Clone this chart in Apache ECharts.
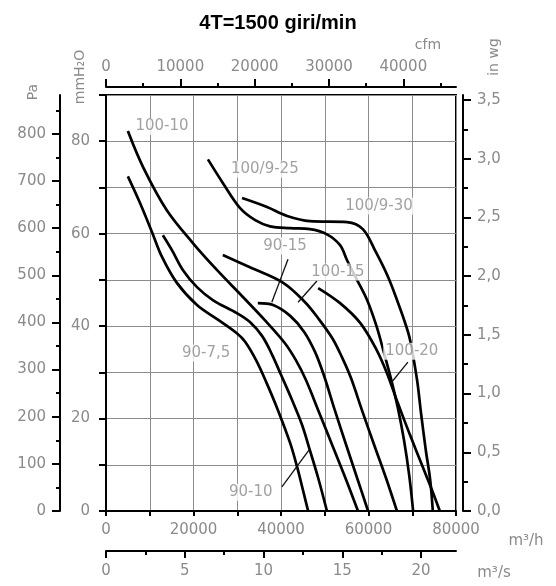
<!DOCTYPE html>
<html><head><meta charset="utf-8">
<script src="https://cdn.jsdelivr.net/npm/echarts@6/dist/echarts.min.js"></script>
<style>html,body{margin:0;padding:0;background:#fff}#c{width:556px;height:586px}</style>
</head><body><div id="c"></div>
<script>
// ---- data: [flow m3/h, static pressure Pa] ----
const curve_100_10 = [[5000,806],[8500,729],[13900,638],[19900,568],[25400,511],[31300,454],[36300,405],[40900,356],[43400,320],[45700,278],[48500,214],[51700,140],[54900,66],[57600,0]];
const curve_90_7_5 = [[5000,710],[7800,653],[10500,592],[12800,539],[16200,484],[20800,437],[25400,407],[29900,377],[31800,359],[34300,320],[36600,274],[39300,214],[42100,144],[43700,93],[45000,45],[46200,0]];
const curve_90_10 = [[13000,585],[15100,553],[17600,511],[20800,475],[24500,447],[29900,420],[32900,401],[35700,371],[37900,333],[40000,289],[42500,236],[44800,183],[46600,129],[48500,70],[50500,0]];
const curve_100_15 = [[26700,543],[32900,517],[40500,484],[45500,443],[48500,409],[51700,367],[53900,327],[56000,282],[58500,214],[61300,140],[64000,70],[66500,0]];
const curve_90_15 = [[34700,441],[38200,437],[42100,414],[45300,380],[47800,337],[49800,288],[52300,214],[54900,140],[57400,70],[59900,0]];
const curve_100_20 = [[48500,473],[53500,441],[58100,399],[61900,341],[64200,293],[66700,229],[69500,161],[72200,98],[74700,40],[76300,0]];
const curve_100_9_25 = [[23300,746],[26700,696],[30600,643],[34100,617],[37500,604],[42100,600],[46600,598],[50500,587],[53500,564],[55100,532],[57400,490],[59700,447],[61900,390],[63500,337],[65100,282],[66700,219],[68100,151],[69300,76],[70200,0]];
const curve_100_9_30 = [[31100,664],[36800,645],[41400,626],[46600,615],[55100,613],[58700,598],[61700,549],[64500,496],[66700,443],[68300,401],[69500,363],[71100,278],[72000,208],[73100,129],[74100,66],[74700,0]];

// curve labels
const labelTexts = ['100-10','100/9-25','100/9-30','90-15','100-15','90-7,5','100-20','90-10'];
const labelFlow  = [12800, 36300, 62400, 40900, 53000, 22900, 69900, 33100];
const labelPa    = [816, 725, 647, 562, 507, 335, 339, 40];

// leader lines
const leader_90_15  = [[41600,534],[37900,443]];
const leader_100_15 = [[48200,488],[43900,443]];
const leader_100_20 = [[69000,316],[65100,271]];
const leader_90_10  = [[40200,51],[46600,132]];

// axis ticks / labels
const m3hMax = 80000, mmMax = 90;
const paLabels = [0,100,200,300,400,500,600,700,800];
const paMinor = [50,150,250,350,450,550,650,750,850];
const inwgLabels = [0,0.5,1,1.5,2,2.5,3,3.5];
const inwgMinor = [0.25,0.75,1.25,1.75,2.25,2.75,3.25];
const cfmLabels = [0,10000,20000,30000,40000];
const cfmMinor = [5000,15000,25000,35000,45000];
const m3sLabels = [0,5,10,15,20];
const m3sMinor = [2.5,7.5,12.5,17.5];

const PA_PER_MM = 9.80665, MM_PER_INWG = 25.4, M3H_PER_CFM = 1.69901;
const FONT = 'DejaVu Sans';
const GRAY = '#8a8a8a';
const BLACK = '#000';

const chart = echarts.init(document.getElementById('c'));

function lbl(extra){return Object.assign({color:GRAY,fontFamily:FONT,fontSize:15},extra||{});}
function minorAxis(base){
  return Object.assign({type:'value', axisLine:{show:false, onZero:false}, axisLabel:{show:false}, splitLine:{show:false},
    axisTick:{show:true, lineStyle:{color:BLACK,width:2}}}, base);
}

const xAxes = [
  {type:'value', position:'bottom', min:0, max:m3hMax, interval:10000,
   axisLine:{show:true,onZero:false,lineStyle:{color:BLACK,width:2}},
   axisTick:{show:true,length:5,lineStyle:{color:BLACK,width:2}},
   axisLabel:lbl({margin:12, formatter:v=> v%20000===0 ? String(v) : ''}),
   splitLine:{show:true,lineStyle:{color:'#8c8c8c',width:1}}},
  {type:'value', position:'bottom', offset:40, min:0, max:m3hMax/3600, interval:5,
   axisLine:{show:true,onZero:false,lineStyle:{color:BLACK,width:2}},
   axisTick:{show:true,length:7,customValues:m3sLabels,lineStyle:{color:BLACK,width:2}},
   axisLabel:lbl({margin:13, customValues:m3sLabels, formatter:v=> v%5===0 ? String(v) : ''}),
   splitLine:{show:false}},
  minorAxis({position:'bottom', offset:40, min:0, max:m3hMax/3600, axisTick:{show:true,length:4,customValues:m3sMinor,lineStyle:{color:BLACK,width:2}}}),
  {type:'value', position:'top', offset:8, min:0, max:m3hMax/M3H_PER_CFM, interval:10000,
   axisLine:{show:true,onZero:false,lineStyle:{color:BLACK,width:2}},
   axisTick:{show:true,length:8,customValues:cfmLabels,lineStyle:{color:BLACK,width:2}},
   axisLabel:lbl({margin:12, customValues:cfmLabels, formatter:v=> v%10000===0 ? String(v) : ''}),
   splitLine:{show:false}},
  minorAxis({position:'top', offset:8, min:0, max:m3hMax/M3H_PER_CFM, axisTick:{show:true,length:4,customValues:cfmMinor,lineStyle:{color:BLACK,width:2}}})
];

const yAxes = [
  {type:'value', position:'left', min:0, max:mmMax, interval:10,
   axisLine:{show:true,onZero:false,lineStyle:{color:BLACK,width:2}},
   axisTick:{show:true,length:7,lineStyle:{color:BLACK,width:2}},
   axisLabel:lbl({margin:16, formatter:v=> v%20===0 ? String(v) : ''}),
   splitLine:{show:true,lineStyle:{color:'#8c8c8c',width:1}}},
  {type:'value', position:'left', offset:46, min:0, max:mmMax*PA_PER_MM, interval:100,
   axisLine:{show:true,onZero:false,lineStyle:{color:BLACK,width:2}},
   axisTick:{show:true,length:8,customValues:paLabels,lineStyle:{color:BLACK,width:2}},
   axisLabel:lbl({margin:14, customValues:paLabels, formatter:v=> v%100===0 ? String(v) : ''}),
   splitLine:{show:false}},
  minorAxis({position:'left', offset:46, min:0, max:mmMax*PA_PER_MM, axisTick:{show:true,length:4,customValues:paMinor,lineStyle:{color:BLACK,width:2}}}),
  {type:'value', position:'right', offset:7, min:0, max:mmMax/MM_PER_INWG, interval:0.5,
   axisLine:{show:true,onZero:false,lineStyle:{color:BLACK,width:2}},
   axisTick:{show:true,length:8,customValues:inwgLabels,lineStyle:{color:BLACK,width:2}},
   axisLabel:lbl({margin:14, customValues:inwgLabels, formatter:v=> (Math.abs(v*2-Math.round(v*2))<1e-6) ? v.toFixed(1).replace('.',',') : ''}),
   splitLine:{show:false}},
  minorAxis({position:'right', offset:7, min:0, max:mmMax/MM_PER_INWG, axisTick:{show:true,length:5,customValues:inwgMinor,lineStyle:{color:BLACK,width:2}}})
];

const curves = [curve_100_10, curve_90_7_5, curve_90_10, curve_100_15, curve_90_15, curve_100_20, curve_100_9_25, curve_100_9_30];
const curveNames = ['100-10','90-7,5','90-10','100-15','90-15','100-20','100/9-25','100/9-30'];
const series = curves.map((d,i)=>({
  name: curveNames[i], type:'line', xAxisIndex:0, yAxisIndex:1, data:d,
  showSymbol:false, smooth:0.35, silent:true, z:3,
  lineStyle:{color:BLACK,width:2.7}
}));
[leader_90_15, leader_100_15, leader_100_20, leader_90_10].forEach(d=>{
  series.push({type:'line', xAxisIndex:0, yAxisIndex:1, data:d, showSymbol:false, silent:true, z:4,
    lineStyle:{color:'#111',width:1.3}});
});
series.push({
  type:'scatter', xAxisIndex:0, yAxisIndex:1, symbol:'rect', symbolSize:1, silent:true, z:10,
  itemStyle:{color:'rgba(0,0,0,0)'},
  data: labelTexts.map((t,i)=>({name:t, value:[labelFlow[i], labelPa[i]]})),
  label:{show:true, position:'inside', formatter:'{b}', color:GRAY, fontFamily:FONT, fontSize:15,
    backgroundColor:'#fff', padding:[1,2]}
});

function gtext(x,y,text,rot,size){
  return {type:'text', x:x, y:y, rotation:rot||0, silent:true,
    style:{text:text, fill:GRAY, fontFamily:FONT, fontSize:size||14, align:'center', verticalAlign:'middle',
      textAlign:'center', textVerticalAlign:'middle'}};
}

chart.setOption({
  animation:false,
  backgroundColor:'#fff',
  title:{text:'4T=1500 giri/min', left:'center', top:8,
    textStyle:{fontFamily:'Liberation Sans', fontWeight:'bold', fontSize:20, color:'#000'}},
  grid:{left:106, right:100, top:95, bottom:75, show:true, borderColor:BLACK, borderWidth:2, containLabel:false},
  xAxis:xAxes,
  yAxis:yAxes,
  series:series,
  graphic:[
    gtext(428,45,'cfm',0,14),
    gtext(494,57,'in wg',Math.PI/2,14),
    gtext(80,77,'mmH\u2082O',Math.PI/2,14),
    gtext(33,92,'Pa',Math.PI/2,14),
    gtext(526,541,'m\u00b3/h',0,15),
    gtext(494,573,'m\u00b3/s',0,15)
  ]
});
</script></body></html>
